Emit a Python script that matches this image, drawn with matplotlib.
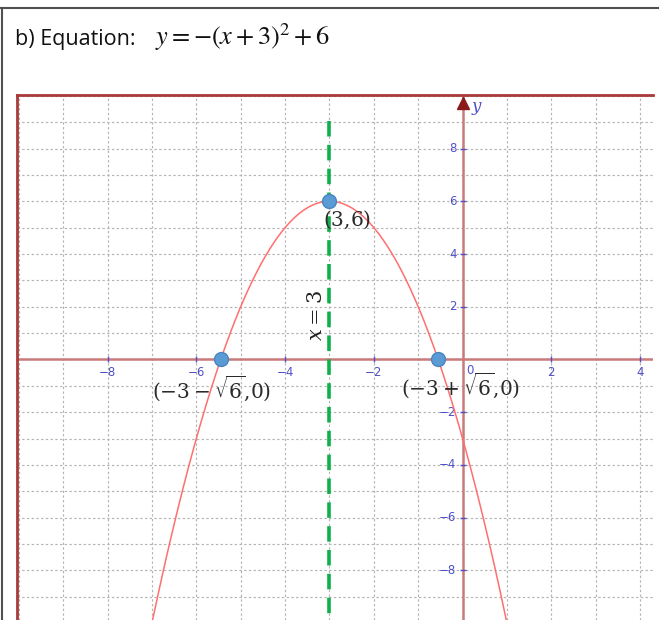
import matplotlib
matplotlib.use('Agg')
import matplotlib.pyplot as plt
from matplotlib.lines import Line2D
import numpy as np

# parabola y = a (x - h)^2 + k
a = -1.0
h = -3.0
k = 6.0
curve_x_range = [-7.3, 1.3]

points_x = [-3.0, -3.0 - np.sqrt(6), -3.0 + np.sqrt(6)]
points_y = [6.0, 0.0, 0.0]
point_labels = [r'$(3{,}6)$', r'$(-3-\sqrt{6}{,}0)$', r'$(-3+\sqrt{6}{,}0)$']
label_x = [-3.14, -7.0, -1.38]
label_y = [5.3, -1.1, -0.97]

grid_x = list(range(-10, 5))
grid_y = list(range(-9, 11))
x_ticks = [-8, -6, -4, -2, 2, 4]
y_ticks = [8, 6, 4, 2, -2, -4, -6, -8]

xlim = (-10.04, 4.29)
ylim = (-9.88, 10.03)

tick_col = '#5050c8'
border_col = '#a83a3a'
axis_col = '#c97a7a'

plt.rcParams['mathtext.fontset'] = 'dejavuserif'

fig = plt.figure(figsize=(6.61, 6.20), dpi=100)
W, H = 661, 620

# outer frame (top and left)
fig.add_artist(Line2D([0, 658 / W], [1 - 8 / H, 1 - 8 / H], color='#505050', lw=1.5))
fig.add_artist(Line2D([2 / W, 2 / W], [0, 1 - 8 / H], color='#505050', lw=1.5))

fig.text(15 / W, 1 - 40 / H, 'b) Equation:', fontsize=15.5, family='Open Sans',
         va='center', ha='left', color='#111111')
fig.text(155 / W, 1 - 37 / H, r'$y=-\left(x+3\right)^{2}+6$', fontsize=19,
         va='center', ha='left', color='#111111', math_fontfamily='stix')

ax = fig.add_axes([17 / W, 0, (653 - 17) / W, (620 - 95) / H])
ax.set_xlim(*xlim)
ax.set_ylim(*ylim)
for s in ['right', 'bottom']:
    ax.spines[s].set_visible(False)
for s in ['top', 'left']:
    ax.spines[s].set_color(border_col)
    ax.spines[s].set_linewidth(2.0)

ax.set_xticks(grid_x)
ax.set_yticks(grid_y)
ax.grid(True, color='#b4b4b4', linestyle=(0, (2, 2)), lw=0.85)
ax.tick_params(length=0, labelbottom=False, labelleft=False)
ax.set_axisbelow(True)

# axes through origin
ax.axhline(0, color=axis_col, lw=1.8, zorder=2)
ax.axvline(0, color=axis_col, lw=1.8, zorder=2)
ax.plot([0], [0.985], marker='^', color='#8b1a1a', markersize=8,
        transform=ax.get_xaxis_transform(), clip_on=False, zorder=3)
ax.text(0.18, 0.975, r'$y$', color=tick_col, fontsize=12,
        transform=ax.get_xaxis_transform(), va='center', ha='left')

# tick marks and labels
ax.plot(x_ticks, [0] * len(x_ticks), linestyle='none', marker='|', color=tick_col,
        markersize=4, zorder=3)
ax.plot([0] * len(y_ticks), y_ticks, linestyle='none', marker='_', color=tick_col,
        markersize=5, zorder=3)
for v in x_ticks:
    ax.text(v, -0.25, '\u2212%d' % -v if v < 0 else str(v), color=tick_col, fontsize=8.5,
            ha='center', va='top')
ax.text(0.08, -0.18, '0', color=tick_col, fontsize=8.5, ha='left', va='top')
for v in y_ticks:
    ax.text(-0.14, v, '\u2212%d' % -v if v < 0 else str(v), color=tick_col, fontsize=8.5,
            ha='right', va='center')

# parabola
xs = np.linspace(curve_x_range[0], curve_x_range[1], 400)
ax.plot(xs, a * (xs - h) ** 2 + k, color='#ff6f6f', lw=1.1, zorder=4)

# axis of symmetry
ax.plot([h, h], [9.05, ylim[0]], color='#0fb04a', lw=2.6, linestyle=(0, (4.3, 2.3)), zorder=5)
ax.text(-3.31, 1.65, r'$x=3$', rotation=90, fontsize=15, ha='center', va='center',
        color='#222222', zorder=6)

ax.plot(points_x, points_y, linestyle='none', marker='o', markersize=10,
        markerfacecolor='#5b9bd5', markeredgecolor='#4a85c0', zorder=7)
for lx, ly, t in zip(label_x, label_y, point_labels):
    ax.text(lx, ly, t, fontsize=14.5, ha='left', va='center', color='#2a2a2a', zorder=8)

fig.savefig('out.png', dpi=100)
